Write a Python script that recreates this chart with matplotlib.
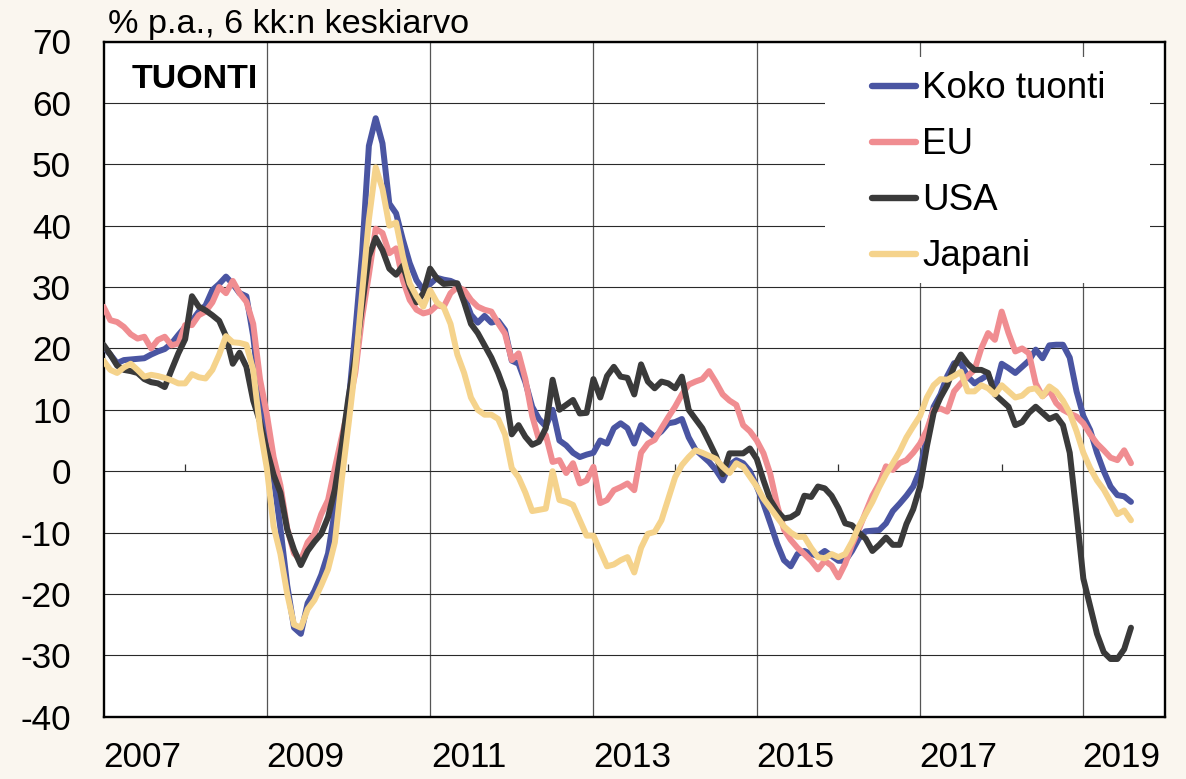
import numpy as np
import pandas as pd
import matplotlib
matplotlib.use('Agg')
import matplotlib.pyplot as plt
from matplotlib.patches import Rectangle
from matplotlib.lines import Line2D

plt.rcParams['font.family'] = ['Liberation Sans', 'DejaVu Sans']

# ---- data (monthly, Jan 2007 - Aug 2019), % p.a., 6 month average ----
months = pd.period_range('2007-01', periods=152, freq='M')

koko_tuonti = [
    20.3, 19.0, 17.6, 18.1, 18.2, 18.3, 18.4, 19.0, 19.5, 19.9, 20.8, 22.2,
    23.5, 24.5, 26.0, 27.0, 29.5, 30.5, 31.7, 30.5, 29.0, 28.5, 22.0, 12.0,
    7.0, -1.2, -9.3, -18.6, -25.5, -26.5, -21.5, -19.5, -16.9, -13.4, -6.4, 2.3,
    11.0, 22.7, 35.5, 53.0, 57.5, 53.4, 43.6, 42.0, 37.7, 33.9, 31.1, 29.5,
    30.5, 31.5, 31.2, 31.0, 30.5, 28.5, 25.5, 24.2, 25.3, 24.2, 24.5, 23.0,
    18.0, 17.5, 14.5, 10.5, 8.5, 7.3, 10.0, 5.0, 4.2, 3.0, 2.3, 2.7,
    3.0, 5.0, 4.5, 7.0, 7.8, 7.0, 4.5, 7.5, 6.5, 5.6, 6.5, 7.8,
    8.0, 8.5, 5.5, 3.5, 2.5, 1.5, 0.2, -1.5, 1.0, 1.8, 1.3, 0.0,
    -2.5, -5.3, -8.5, -11.8, -14.5, -15.5, -13.5, -13.0, -13.5, -13.8, -13.0, -13.8,
    -14.6, -14.6, -13.0, -11.0, -9.8, -9.7, -9.6, -8.5, -6.5, -5.3, -4.0, -2.5,
    0.2, 5.6, 10.5, 12.5, 15.5, 17.6, 17.6, 15.4, 14.3, 15.0, 15.7, 13.2,
    17.5, 16.8, 16.0, 17.0, 18.0, 19.8, 18.4, 20.5, 20.6, 20.6, 18.5, 13.0,
    9.0, 6.7, 3.0, 0.0, -2.5, -3.9, -4.1, -5.0,
]

eu = [
    26.8, 24.6, 24.3, 23.5, 22.3, 21.6, 21.9, 20.0, 21.4, 21.9, 20.5, 20.8,
    23.8, 23.8, 25.4, 26.0, 27.5, 30.0, 29.0, 31.0, 29.0, 27.6, 24.0, 15.0,
    9.3, 2.3, -2.3, -9.3, -13.4, -14.5, -11.6, -10.2, -7.0, -4.7, 0.5, 5.5,
    10.5, 16.0, 25.0, 32.0, 39.5, 38.8, 35.5, 36.3, 31.1, 27.9, 26.3, 25.7,
    26.0, 27.0, 26.8, 29.0, 30.0, 29.5, 27.9, 26.8, 26.3, 26.0, 24.1, 22.4,
    18.1, 19.2, 15.0, 9.0, 5.1, 5.9, 1.5, 1.8, -0.3, 1.3, -2.0, -1.5,
    0.7, -5.2, -4.7, -3.1, -2.6, -2.0, -3.1, 3.0, 4.5, 5.1, 7.0, 8.8,
    10.5, 12.5, 14.1, 14.6, 15.0, 16.3, 14.5, 12.5, 11.5, 10.8, 7.5, 6.5,
    5.0, 2.9, -0.5, -5.5, -9.5, -11.2, -12.5, -13.5, -14.6, -16.0, -14.6, -15.4,
    -17.3, -15.1, -12.0, -9.5, -6.7, -4.0, -2.0, 0.8, 0.2, 1.3, 1.8, 3.0,
    4.5, 6.7, 10.0, 10.2, 9.7, 13.0, 14.3, 15.5, 16.5, 20.0, 22.5, 21.4,
    26.0, 22.5, 19.5, 20.0, 19.2, 14.3, 12.2, 13.2, 11.1, 10.0, 9.4, 8.9,
    7.8, 6.0, 4.5, 3.4, 2.2, 1.8, 3.4, 1.3,
]

usa = [
    20.6, 19.0, 17.2, 16.5, 16.3, 16.0, 15.0, 14.5, 14.3, 13.7, 16.5, 19.2,
    21.5, 28.5, 26.8, 26.2, 25.4, 24.5, 22.0, 17.5, 19.3, 17.0, 11.5, 8.0,
    3.5, -0.6, -3.5, -9.5, -12.8, -15.3, -13.0, -11.5, -10.2, -7.5, -3.0, 4.0,
    12.0, 18.5, 27.0, 35.0, 38.0, 36.0, 33.0, 32.0, 33.5, 30.0, 27.5, 29.0,
    33.0, 31.4, 30.5, 30.6, 30.6, 27.5, 24.0, 22.5, 20.5, 18.5, 16.0, 13.0,
    6.0, 7.5, 5.6, 4.3, 4.8, 7.0, 14.9, 10.0, 10.8, 11.6, 9.4, 9.5,
    15.0, 12.0, 15.5, 17.0, 15.4, 15.2, 12.5, 17.4, 14.6, 13.5, 14.6, 14.3,
    13.5, 15.4, 10.0, 8.5, 7.0, 4.8, 2.5, -0.5, 2.9, 2.9, 2.9, 3.7,
    2.0, -1.5, -4.7, -6.5, -7.7, -7.5, -6.8, -4.0, -4.2, -2.5, -2.8, -4.0,
    -6.0, -8.5, -8.8, -10.0, -11.0, -13.0, -12.0, -10.8, -12.0, -12.0, -8.6, -6.2,
    -2.5, 4.0, 9.5, 12.0, 14.0, 17.0, 19.0, 17.5, 16.5, 16.5, 16.0, 12.5,
    11.5, 10.5, 7.5, 8.0, 9.5, 10.5, 9.5, 8.5, 9.0, 7.5, 3.0, -7.0,
    -17.5, -22.0, -26.5, -29.5, -30.6, -30.6, -29.0, -25.5,
]

japani = [
    18.0, 16.5, 16.0, 16.9, 17.5, 16.5, 15.4, 15.7, 15.5, 15.2, 14.8, 14.3,
    14.3, 15.8, 15.3, 15.1, 16.5, 19.0, 22.0, 21.0, 20.9, 20.6, 16.5, 7.0,
    0.5, -9.0, -13.5, -20.0, -25.0, -25.5, -22.5, -21.0, -18.6, -16.0, -11.6, -1.5,
    7.5, 17.0, 29.0, 41.0, 49.5, 46.0, 40.0, 40.5, 35.0, 30.6, 28.5, 26.8,
    29.5, 27.5, 26.7, 24.0, 19.0, 16.0, 12.0, 10.0, 9.2, 9.2, 8.5, 6.0,
    0.5, -1.0, -3.5, -6.5, -6.3, -6.1, 0.0, -4.7, -5.0, -5.5, -8.0, -10.5,
    -10.5, -13.0, -15.5, -15.2, -14.5, -14.0, -16.5, -12.5, -10.2, -9.9, -8.0, -4.5,
    -1.0, 1.0, 2.3, 3.4, 3.0, 2.5, 2.0, 0.7, -0.3, 1.3, 0.7, -0.9,
    -2.5, -4.5, -6.0, -7.5, -9.0, -10.0, -10.7, -10.7, -12.5, -14.0, -14.2, -13.5,
    -14.0, -13.5, -11.5, -9.0, -7.0, -5.0, -2.6, -0.5, 1.3, 3.2, 5.5, 7.3,
    9.0, 12.0, 14.0, 15.0, 14.9, 15.5, 16.2, 13.0, 13.0, 14.0, 13.5, 12.5,
    14.0, 13.0, 12.0, 12.3, 13.3, 13.5, 12.2, 13.8, 13.0, 11.5, 9.5, 6.5,
    3.0, 0.5, -1.5, -3.0, -5.0, -7.0, -6.4, -8.0,
]

series_names = ['Koko tuonti', 'EU', 'USA', 'Japani']
year_labels = ['2007', '2009', '2011', '2013', '2015', '2017', '2019']
y_ticks = list(range(-40, 71, 10))
title_text = '% p.a., 6 kk:n keskiarvo'
panel_text = 'TUONTI'

# ---- styling ----
colors = ['#4A55A2', '#F08D91', '#3A3A3A', '#F5D38C']
bg = '#FAF6EF'
W, H = 1186, 779

x = np.asarray(months.year + (months.month - 1) / 12.0, dtype=float)

fig = plt.figure(figsize=(W / 100, H / 100), dpi=100, facecolor=bg)
ax = fig.add_axes([103.5 / W, 1 - 716.7 / H, (1165 - 103.5) / W, (716.7 - 41.5) / H])
ax.set_facecolor('white')
ax.set_xlim(2007, 2020)
ax.set_ylim(-40, 70)

# gridlines
ax.set_yticks(y_ticks)
ax.set_yticklabels([str(v) for v in y_ticks])
grid_years = [int(y) + 2 for y in year_labels[:-1]]
ax.set_xticks(grid_years, minor=True)
ax.set_xticks([int(y) + 0.47 for y in year_labels])
ax.set_xticklabels(year_labels)
ax.grid(which='major', axis='y', color='#2a2a2a', lw=0.8, zorder=0)
ax.grid(which='minor', axis='x', color='#555555', lw=0.9, zorder=0)
ax.set_axisbelow(True)
ax.tick_params(axis='both', which='both', length=0, labelsize=25.3, colors='black')
ax.tick_params(axis='y', pad=23.4)
ax.tick_params(axis='x', pad=17.5)

# small ticks on the zero line at even years
ax.vlines([int(y) + 1 for y in year_labels[:-1]], 0, 1.1, colors='#333333', lw=0.9, zorder=1)

for s in ax.spines.values():
    s.set_linewidth(1.7)
    s.set_color('black')

# white box behind legend (covers gridlines)
x0, x1 = 825 / W, 1150 / W
y0, y1 = 1 - 283 / H, 1 - 57 / H
ax.add_patch(Rectangle((x0, y0), x1 - x0, y1 - y0, transform=fig.transFigure,
                       facecolor='white', edgecolor='none', zorder=1.6))

for vals, c, name in zip([koko_tuonti, eu, usa, japani], colors, series_names):
    ax.plot(x, vals, color=c, lw=4.3, solid_joinstyle='round',
            solid_capstyle='round', label=name, zorder=3)

handles = [Line2D([], [], color=c, lw=4.6, solid_capstyle='round') for c in colors]
ax.legend(handles, series_names, loc='upper left',
          bbox_to_anchor=(872 / W, 1 - 71.5 / H), bbox_transform=fig.transFigure,
          frameon=False, borderpad=0, borderaxespad=0, handlelength=1.2,
          handletextpad=0.17, labelspacing=0.57, fontsize=26.5)

fig.text(108 / W, 1 - 33.3 / H, title_text, fontsize=24.7, va='baseline', ha='left')
fig.text(132 / W, 1 - 88 / H, panel_text, fontsize=24.5, fontweight='bold',
         va='baseline', ha='left')

fig.savefig('out.png', dpi=100, facecolor=bg)
